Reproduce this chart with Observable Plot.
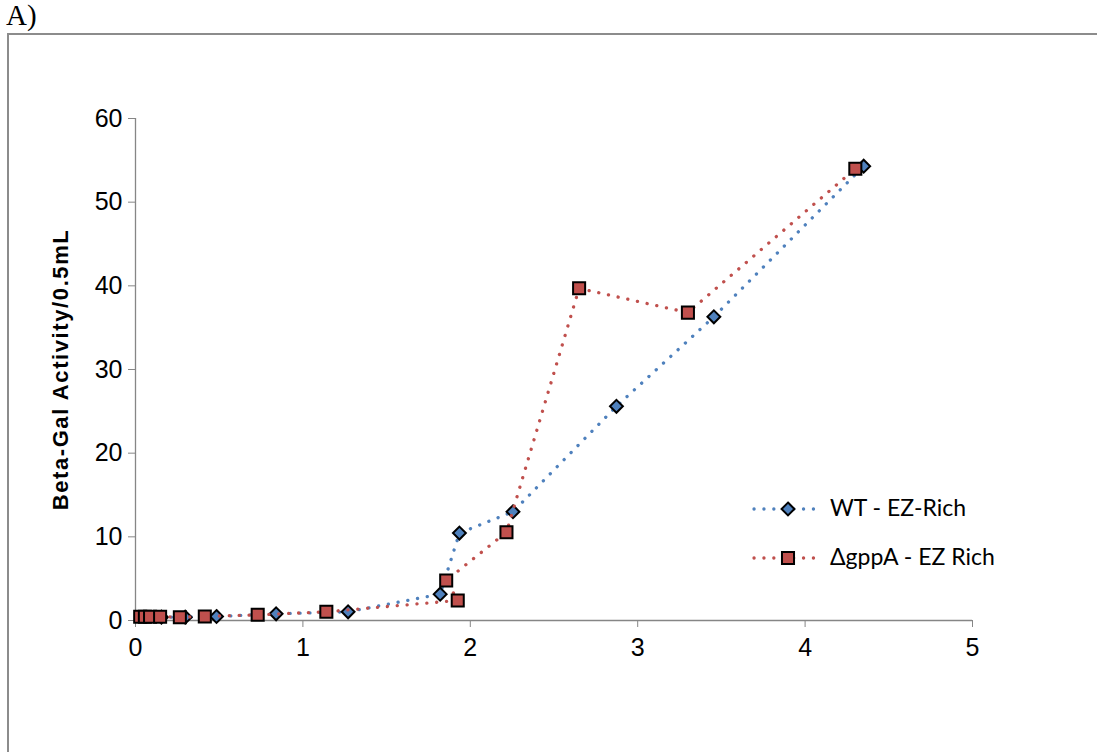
<!DOCTYPE html>
<html>
<head>
<meta charset="utf-8">
<script src="https://cdn.jsdelivr.net/npm/d3@7"></script>
<script src="https://cdn.jsdelivr.net/npm/@observablehq/plot@0.6"></script>
<style>
  body { margin: 0; background: #fff; width: 1097px; height: 752px; overflow: hidden; position: relative; }
  #title { position: absolute; left: 6px; top: 0px; font-family: "Liberation Serif", "Times New Roman", serif; font-size: 29px; line-height: 31px; color: #000; }
  #frame { position: absolute; left: 7px; top: 33px; width: 1200px; height: 800px; border-top: 2px solid #8c8c8c; border-left: 2px solid #8c8c8c; box-sizing: border-box; }
  #chart { position: absolute; left: 0; top: 0; }
  #legend { position: absolute; left: 750px; top: 491px; font-family: Lato, "Open Sans", sans-serif; font-size: 23px; color: #000; }
  #legend .row { position: absolute; left: 0; white-space: nowrap; height: 36px; }
  #legend svg { position: absolute; left: 0; top: 0; }
  #legend span { position: absolute; left: 80px; top: 2px; }
</style>
</head>
<body>
<div id="title">A)</div>
<div id="frame"></div>
<div id="chart"></div>
<div id="legend"></div>
<script>
// ---- Data ----
const seriesNames = ["WT - EZ-Rich", "\u0394gppA - EZ Rich"];
const seriesColors = ["#4F81BD", "#C0504D"];
const seriesSymbols = ["diamond2", "square"];

const wtX = [0.155, 0.297, 0.484, 0.84, 1.27, 1.82, 1.935, 2.255, 2.873, 3.455, 4.35];
const wtY = [0.4, 0.4, 0.48, 0.8, 1.04, 3.15, 10.45, 13.0, 25.6, 36.3, 54.3];

const gppX = [0.028, 0.056, 0.087, 0.147, 0.265, 0.414, 0.73, 1.14, 1.925, 1.856, 2.216, 2.65, 3.30, 4.30];
const gppY = [0.45, 0.45, 0.45, 0.45, 0.4, 0.48, 0.68, 1.04, 2.4, 4.78, 10.55, 39.7, 36.8, 54.0];

const xTicks = [0, 1, 2, 3, 4, 5];
const yTicks = [0, 10, 20, 30, 40, 50, 60];
const yLabel = "Beta-Gal Activity/0.5mL";

const wt = wtX.map((x, i) => ({x, y: wtY[i]}));
const gpp = gppX.map((x, i) => ({x, y: gppY[i]}));

const dotted = {strokeWidth: 3.3, strokeDasharray: "0.1,9.8", strokeLinecap: "round"};

const chart = Plot.plot({
  width: 1097,
  height: 752,
  marginLeft: 135,
  marginRight: 125,
  marginTop: 118,
  marginBottom: 132,
  style: {fontFamily: "'Liberation Sans', Arial, sans-serif", color: "#000", background: "transparent"},
  x: {domain: [0, 5]},
  y: {domain: [0, 60]},
  marks: [
    Plot.axisX({ticks: xTicks, tickSize: 7, tickPadding: 11, fontSize: 25, stroke: "#868686", label: null, tickFormat: d => d}),
    Plot.axisY({ticks: yTicks, tickSize: 7, tickPadding: 6, fontSize: 25, stroke: "#868686", label: null, tickFormat: d => d}),
    Plot.ruleY([0], {stroke: "#868686", strokeWidth: 1.3}),
    Plot.ruleX([0], {stroke: "#868686", strokeWidth: 1.3}),
    Plot.text([yLabel], {frameAnchor: "left", textAnchor: "middle", rotate: -90, dx: -75, fontWeight: "bold", fontSize: 22, fill: "#000"}),
    Plot.line(wt, {x: "x", y: "y", stroke: seriesColors[0], ...dotted}),
    Plot.dot(wt, {x: "x", y: "y", symbol: seriesSymbols[0], r: 5.8, fill: seriesColors[0], stroke: "#000", strokeWidth: 2}),
    Plot.line(gpp, {x: "x", y: "y", stroke: seriesColors[1], ...dotted}),
    Plot.dot(gpp, {x: "x", y: "y", symbol: seriesSymbols[1], r: 6.8, fill: seriesColors[1], stroke: "#000", strokeWidth: 2})
  ]
});
document.getElementById("chart").appendChild(chart);
// enforce tick label size and y label letter spacing
d3.select(chart).selectAll('g[aria-label="x-axis tick label"], g[aria-label="y-axis tick label"]')
  .attr("font-size", 25).style("font-size", "25px");
d3.select(chart).selectAll("text").filter(function() { return this.textContent === yLabel; })
  .style("letter-spacing", "1.6px").style("font-size", "22px");

// ---- Legend ----
const legend = d3.select("#legend");
const rowTops = [0, 49];
seriesNames.forEach((name, i) => {
  const row = legend.append("div").attr("class", "row").style("top", rowTops[i] + "px");
  const svg = row.append("svg").attr("width", 75).attr("height", 36);
  svg.append("line").attr("x1", 4).attr("x2", 70).attr("y1", 18).attr("y2", 18)
    .attr("stroke", seriesColors[i]).attr("stroke-width", 3.3)
    .attr("stroke-dasharray", "0.1,9.8").attr("stroke-linecap", "round");
  const sym = i === 0 ? d3.symbolDiamond2 : d3.symbolSquare;
  const r = i === 0 ? 5.8 : 6.8;
  svg.append("path").attr("d", d3.symbol(sym, Math.pow(r * Math.sqrt(Math.PI), 2))())
    .attr("transform", "translate(38,18)").attr("fill", seriesColors[i]).attr("stroke", "#000").attr("stroke-width", 2);
  row.append("span").text(name);
});
</script>
</body>
</html>
